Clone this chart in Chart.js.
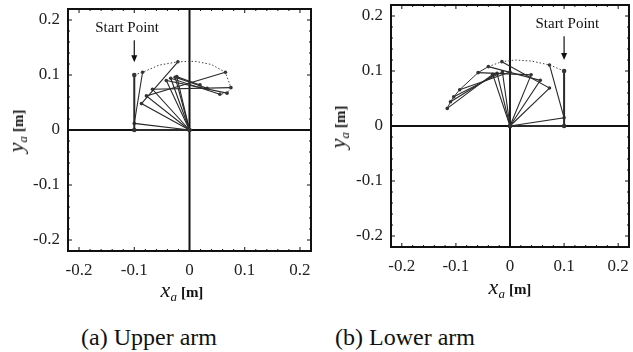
<!DOCTYPE html>
<html>
<head>
<meta charset="utf-8">
<script src="https://cdn.jsdelivr.net/npm/chart.js@4/dist/chart.umd.min.js"></script>
<style>
  body { margin: 0; width: 633px; height: 352px; background: #fff; position: relative; overflow: hidden; font-family: "Liberation Serif", serif; }
  canvas { position: absolute; top: 0; }
  .xt, .yt { position: absolute; white-space: nowrap; color: #111; line-height: 1; }
  .yt { transform: translate(-50%, -50%) rotate(-90deg); }
  .xt { transform: translate(-50%, -50%); }
  .v { font-style: italic; font-size: 22px; }
  .s { font-style: italic; font-size: 13px; position: relative; top: 4px; }
  .u { font-weight: bold; font-size: 15px; }
  .cap { position: absolute; top: 337px; transform: translate(-50%, -50%); font-size: 24px; white-space: nowrap; color: #111; }
</style>
</head>
<body>
<canvas id="upper" width="320" height="310" style="left:0"></canvas>
<canvas id="lower" width="313" height="310" style="left:320px"></canvas>

<div class="xt" style="left:182px;top:290px"><span class="v">x</span><span class="s">a</span> <span class="u">[m]</span></div>
<div class="yt" style="left:16px;top:131px"><span class="v">y</span><span class="s">a</span> <span class="u">[m]</span></div>
<div class="xt" style="left:510px;top:287px"><span class="v">x</span><span class="s">a</span> <span class="u">[m]</span></div>
<div class="yt" style="left:338px;top:127px"><span class="v">y</span><span class="s">a</span> <span class="u">[m]</span></div>
<div class="cap" style="left:149px">(a) Upper arm</div>
<div class="cap" style="left:405px">(b) Lower arm</div>

<script>
const tickVals = [-0.2, -0.1, 0, 0.1, 0.2];
const minorStep = 0.02;

// upper arm: each frame goes shoulder (0,0) -> mid point -> end point
const upperMidX = [-0.1, -0.1, -0.087, -0.078, -0.067, -0.042, -0.034, -0.026, -0.023];
const upperMidY = [0, 0.012, 0.048, 0.062, 0.074, 0.090, 0.094, 0.096, 0.097];
const upperEndX = [-0.1, -0.085, -0.021, 0.065, 0.075, 0.068, 0.055, 0.032, 0.019];
const upperEndY = [0.1, 0.105, 0.124, 0.105, 0.077, 0.067, 0.065, 0.076, 0.082];
const upperDotX = [-0.1, -0.085, -0.055, -0.021, 0.01, 0.04, 0.065, 0.075, 0.068, 0.055];
const upperDotY = [0.1, 0.105, 0.118, 0.124, 0.125, 0.119, 0.105, 0.077, 0.067, 0.065];

// lower arm
const lowerMidX = [0.1, 0.1, 0.073, 0.056, 0.039, 0, -0.014, -0.024, -0.032];
const lowerMidY = [0, 0.015, 0.069, 0.083, 0.093, 0.098, 0.098, 0.096, 0.094];
const lowerEndX = [0.1, 0.073, -0.015, -0.04, -0.059, -0.093, -0.104, -0.11, -0.116];
const lowerEndY = [0.1, 0.111, 0.117, 0.108, 0.097, 0.066, 0.053, 0.044, 0.032];
const lowerDotX = [0.1, 0.073, 0.04, 0.01, -0.015, -0.04];
const lowerDotY = [0.1, 0.111, 0.118, 0.12, 0.117, 0.108];
const lowerArcX = [-0.04, -0.059, -0.093, -0.104, -0.11, -0.116];
const lowerArcY = [0.108, 0.097, 0.066, 0.053, 0.044, 0.032];

const framePlugin = {
    id: 'frame',
    beforeDatasetsDraw(chart) {
        const { ctx, chartArea: a, scales: { x, y } } = chart;
        ctx.save();
        ctx.strokeStyle = '#111';
        ctx.lineWidth = 2;
        ctx.beginPath();
        const x0 = x.getPixelForValue(0), y0 = y.getPixelForValue(0);
        ctx.moveTo(x0, a.top); ctx.lineTo(x0, a.bottom);
        ctx.moveTo(a.left, y0); ctx.lineTo(a.right, y0);
        ctx.stroke();
        ctx.strokeRect(a.left, a.top, a.width, a.height);
        ctx.lineWidth = 1;
        ctx.beginPath();
        for (let i = -10; i <= 10; i++) {
            const v = i * minorStep;
            const len = i % 5 === 0 ? 4 : 2;
            const px = x.getPixelForValue(v), py = y.getPixelForValue(v);
            ctx.moveTo(px, a.bottom); ctx.lineTo(px, a.bottom - len);
            ctx.moveTo(px, a.top); ctx.lineTo(px, a.top + len);
            ctx.moveTo(a.left, py); ctx.lineTo(a.left + len, py);
            ctx.moveTo(a.right, py); ctx.lineTo(a.right - len, py);
        }
        ctx.stroke();
        ctx.restore();
    },
    afterDatasetsDraw(chart, args, opts) {
        const { ctx, scales: { x, y } } = chart;
        const ax = x.getPixelForValue(opts.arrowX);
        ctx.save();
        ctx.fillStyle = '#111';
        ctx.strokeStyle = '#111';
        ctx.font = '15px "Liberation Serif"';
        ctx.textAlign = 'center';
        ctx.textBaseline = 'middle';
        ctx.fillText('Start Point', x.getPixelForValue(opts.labelX), y.getPixelForValue(opts.labelY));
        const top = y.getPixelForValue(opts.arrowTop), tip = y.getPixelForValue(opts.arrowTip);
        ctx.lineWidth = 1.2;
        ctx.beginPath(); ctx.moveTo(ax, top); ctx.lineTo(ax, tip - 5); ctx.stroke();
        ctx.beginPath(); ctx.moveTo(ax - 3, tip - 7); ctx.lineTo(ax + 3, tip - 7); ctx.lineTo(ax, tip); ctx.closePath(); ctx.fill();
        ctx.restore();
    }
};

// drop the extra room Chart.js keeps for the end labels
function noPad(s) {
    s.paddingLeft = s.paddingRight = s.paddingTop = s.paddingBottom = 0;
}

function makeChart(id, midX, midY, endX, endY, dotX, dotY, arcX, arcY, yWidth, pad, start) {
    const datasets = [];
    dotX && datasets.push({
        data: dotX.map((v, i) => ({ x: v, y: dotY[i] })),
        borderColor: '#444', borderWidth: 1, borderDash: [1.5, 2], pointRadius: 0
    });
    arcX && datasets.push({
        data: arcX.map((v, i) => ({ x: v, y: arcY[i] })),
        borderColor: '#333', borderWidth: 1, pointRadius: 0
    });
    midX.forEach((v, i) => {
        datasets.push({
            data: [{ x: 0, y: 0 }, { x: v, y: midY[i] }, { x: endX[i], y: endY[i] }],
            borderColor: '#2a2a2a',
            borderWidth: i === 0 ? 2 : 1.1,
            pointRadius: i === 0 ? 2.3 : 1.8,
            pointBackgroundColor: '#333',
            pointBorderWidth: 0
        });
    });
    const tickFont = { family: '"Liberation Serif"', size: 17 };
    return new Chart(document.getElementById(id).getContext('2d'), {
        type: 'scatter',
        data: { datasets },
        options: {
            responsive: false,
            animation: false,
            showLine: true,
            layout: { padding: pad },
            plugins: { legend: { display: false }, tooltip: { enabled: false }, frame: start },
            scales: {
                x: {
                    type: 'linear', min: -0.22, max: 0.22,
                    grid: { display: false, drawTicks: false },
                    border: { display: false },
                    afterBuildTicks: s => { s.ticks = tickVals.map(v => ({ value: v })); },
                    afterFit: s => { s.height = 59; noPad(s); },
                    ticks: { font: tickFont, color: '#222', padding: 9, maxRotation: 0, callback: v => String(Math.round(v * 10) / 10) }
                },
                y: {
                    type: 'linear', min: -0.22, max: 0.22,
                    grid: { display: false, drawTicks: false },
                    border: { display: false },
                    afterBuildTicks: s => { s.ticks = tickVals.map(v => ({ value: v })); },
                    afterFit: s => { s.width = yWidth; noPad(s); },
                    ticks: { font: tickFont, color: '#222', padding: 8, callback: v => String(Math.round(v * 10) / 10) }
                }
            }
        },
        plugins: [framePlugin]
    });
}

makeChart('upper', upperMidX, upperMidY, upperEndX, upperEndY, upperDotX, upperDotY, null, null,
    68, { left: 0, top: 9, right: 9, bottom: 0 },
    { labelX: -0.113, labelY: 0.185, arrowX: -0.1, arrowTop: 0.163, arrowTip: 0.123 });
makeChart('lower', lowerMidX, lowerMidY, lowerEndX, lowerEndY, lowerDotX, lowerDotY, lowerArcX, lowerArcY,
    71, { left: 0, top: 5, right: 1, bottom: 4 },
    { labelX: 0.106, labelY: 0.185, arrowX: 0.1, arrowTop: 0.163, arrowTip: 0.12 });
</script>
</body>
</html>
